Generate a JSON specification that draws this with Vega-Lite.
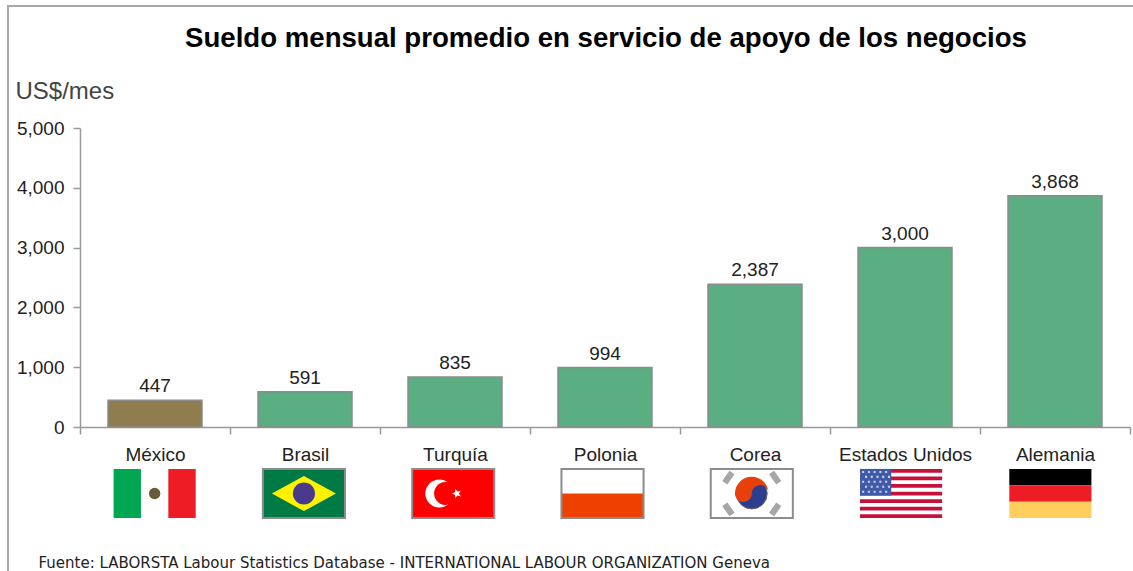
{
"$schema":"https://vega.github.io/schema/vega-lite/v6.json",
"autosize":{"type":"none"},
"padding":{"left":8,"top":6,"right":0,"bottom":0},
"width":1128,"height":568,
"background":"white",
"config":{"view":{"stroke":"#A8A8A8","strokeWidth":2},"font":"Liberation Sans"},
"title":{"text":"Sueldo mensual promedio en servicio de apoyo de los negocios","font":"Liberation Sans","fontSize":27.6,"fontWeight":"bold","color":"#000","anchor":"middle","frame":"group","dx":34,"offset":-68.5,"baseline":"alphabetic"},
"datasets":{
"sueldos":[
{"pais":"México","sueldo":447,"grupo":"barra México"},
{"pais":"Brasil","sueldo":591,"grupo":"barra"},
{"pais":"Turquía","sueldo":835,"grupo":"barra"},
{"pais":"Polonia","sueldo":994,"grupo":"barra"},
{"pais":"Corea","sueldo":2387,"grupo":"barra"},
{"pais":"Estados Unidos","sueldo":3000,"grupo":"barra"},
{"pais":"Alemania","sueldo":3868,"grupo":"barra"}
],
"franjas":[
{"pais":"México","parte":"blanco","ini":0,"fin":1},
{"pais":"Brasil","parte":"verde Brasil","ini":0,"fin":1},
{"pais":"Turquía","parte":"rojo","ini":0,"fin":1},
{"pais":"Polonia","parte":"blanco","ini":0,"fin":0.5},
{"pais":"Polonia","parte":"naranja","ini":0.5,"fin":1},
{"pais":"Corea","parte":"blanco","ini":0,"fin":1},
{"pais":"Estados Unidos","parte":"blanco","ini":0,"fin":1},
{"pais":"Estados Unidos","parte":"carmesí","ini":0,"fin":0.077},
{"pais":"Estados Unidos","parte":"carmesí","ini":0.154,"fin":0.231},
{"pais":"Estados Unidos","parte":"carmesí","ini":0.308,"fin":0.385},
{"pais":"Estados Unidos","parte":"carmesí","ini":0.462,"fin":0.539},
{"pais":"Estados Unidos","parte":"carmesí","ini":0.616,"fin":0.693},
{"pais":"Estados Unidos","parte":"carmesí","ini":0.77,"fin":0.847},
{"pais":"Estados Unidos","parte":"carmesí","ini":0.924,"fin":1},
{"pais":"Alemania","parte":"negro","ini":0,"fin":0.333},
{"pais":"Alemania","parte":"rojo Alemania","ini":0.333,"fin":0.667},
{"pais":"Alemania","parte":"oro","ini":0.667,"fin":1}
],
"columnas":[
{"pais":"México","parte":"verde México","col":"c1","ini":0,"fin":1},
{"pais":"México","parte":"rojo Alemania","col":"c3","ini":0,"fin":1}
],
"marcos":[{"pais":"Brasil"},{"pais":"Turquía"},{"pais":"Polonia"},{"pais":"Corea"}]
},
"layer":[
{
"data":{"name":"sueldos"},
"encoding":{
"x":{"field":"pais","type":"nominal","sort":null,
"scale":{"range":[72,1122],"paddingInner":0,"paddingOuter":0},
"axis":{"title":"Fuente: LABORSTA Labour Statistics Database - INTERNATIONAL LABOUR ORGANIZATION Geneva","titleFont":"DejaVu Sans","titleFontSize":15,"titleFontWeight":"normal","titleColor":"#222","titleAnchor":"start","titleAlign":"left","titleBaseline":"alphabetic","titleX":30,"titleY":140,"offset":-147,"labelAngle":0,"labelFontSize":19,"labelColor":"#222","labelPadding":11,"tickSize":7,"tickBand":"extent","tickColor":"#999","domainColor":"#999","domainWidth":1.5,"tickWidth":1.5,"labelFont":"Liberation Sans"}},
"y":{"field":"sueldo","type":"quantitative",
"scale":{"domain":[0,5000],"range":[421,122],"nice":false},
"axis":{"title":"US$/mes","titleFont":"Liberation Sans","titleFontSize":24,"titleFontWeight":"normal","titleColor":"#444","titleAngle":0,"titleAlign":"left","titleBaseline":"alphabetic","titleX":-65,"titleY":92,"offset":-72,"values":[0,1000,2000,3000,4000,5000],"format":",d","grid":false,"labelFontSize":19,"labelColor":"#222","labelPadding":9,"tickSize":7,"tickColor":"#999","domainColor":"#999","domainWidth":1.5,"tickWidth":1.5,"labelFont":"Liberation Sans"}}
},
"layer":[
{"mark":{"type":"bar","size":94,"stroke":"#8C8C8C","strokeWidth":1.5},
"encoding":{"color":{"field":"grupo","type":"nominal","legend":null,"scale":{"domain":["barra","barra México","blanco","verde Brasil","rojo","naranja","carmesí","negro","rojo Alemania","oro","verde México"],"range":["#5BAD82","#8F7D50","#FFFFFF","#007A45","#FF0000","#EE4000","#C4123A","#000000","#EE1C25","#FFCE5C","#00A651"]}}}},
{"mark":{"type":"text","dy":-14,"fontSize":19,"color":"#222","font":"Liberation Sans"},
"encoding":{"text":{"field":"sueldo","type":"quantitative","format":",d"}}}
]
},
{
"encoding":{
"x":{"field":"pais","type":"nominal",
"scale":{"domain":["México","Brasil","Turquía","Polonia","Corea","Estados Unidos","Alemania"],"range":[72,1117],"paddingInner":0.45,"paddingOuter":0.225},"axis":null}
},
"layer":[
{"data":{"name":"franjas"},"mark":{"type":"bar"},
"encoding":{
"y":{"field":"ini","type":"quantitative","scale":{"domain":[0,1],"range":[463,512]},"axis":null},
"y2":{"field":"fin"},
"color":{"field":"parte","type":"nominal","legend":null}}},
{"data":{"name":"columnas"},"mark":{"type":"bar"},
"encoding":{
"xOffset":{"field":"col","type":"nominal","scale":{"domain":["c1","c2","c3"],"paddingInner":0,"paddingOuter":0}},
"y":{"field":"ini","type":"quantitative","axis":null},
"y2":{"field":"fin"},
"color":{"field":"parte","type":"nominal","legend":null}}},
{"data":{"name":"marcos"},"mark":{"type":"bar","fillOpacity":0,"stroke":"#8C8C8C","strokeWidth":2},
"encoding":{"y":{"datum":0,"type":"quantitative","axis":null},"y2":{"datum":1}}},
{"data":{"values":[{"pais":"Estados Unidos","v":0.5}]},"mark":{"type":"point","filled":true,"opacity":1,"color":"#3F5AA8","size":6724,"shape":"M-1,-0.6H-0.24V0.05H-1Z"},
"encoding":{"y":{"field":"v","type":"quantitative","axis":null}}},
{"data":{"values":[{"pais":"Estados Unidos","v":0.5}]},"mark":{"type":"point","filled":true,"opacity":0.75,"color":"#FFFFFF","size":6724,"shape":"M-0.95,-0.55h.05v.05h-.05ZM-0.81,-0.55h.05v.05h-.05ZM-0.67,-0.55h.05v.05h-.05ZM-0.53,-0.55h.05v.05h-.05ZM-0.39,-0.55h.05v.05h-.05ZM-0.88,-0.43h.05v.05h-.05ZM-0.74,-0.43h.05v.05h-.05ZM-0.6,-0.43h.05v.05h-.05ZM-0.46,-0.43h.05v.05h-.05ZM-0.32,-0.43h.05v.05h-.05ZM-0.95,-0.31h.05v.05h-.05ZM-0.81,-0.31h.05v.05h-.05ZM-0.67,-0.31h.05v.05h-.05ZM-0.53,-0.31h.05v.05h-.05ZM-0.39,-0.31h.05v.05h-.05ZM-0.88,-0.19h.05v.05h-.05ZM-0.74,-0.19h.05v.05h-.05ZM-0.6,-0.19h.05v.05h-.05ZM-0.46,-0.19h.05v.05h-.05ZM-0.32,-0.19h.05v.05h-.05ZM-0.95,-0.07h.05v.05h-.05ZM-0.81,-0.07h.05v.05h-.05ZM-0.67,-0.07h.05v.05h-.05ZM-0.53,-0.07h.05v.05h-.05ZM-0.39,-0.07h.05v.05h-.05Z"},
"encoding":{"y":{"field":"v","type":"quantitative","axis":null}}},
{"data":{"values":[{"pais":"Brasil","v":0.5}]},"mark":{"type":"point","filled":true,"opacity":1,"color":"#FFF200","size":4100,"shape":"M-1,0L0,-0.55L1,0L0,0.55Z"},
"encoding":{"y":{"field":"v","type":"quantitative","axis":null}}},
{"data":{"values":[{"pais":"Brasil","v":0.5}]},"mark":{"type":"point","filled":true,"opacity":1,"color":"#4B3A8C","size":490,"shape":"circle"},
"encoding":{"y":{"field":"v","type":"quantitative","axis":null}}},
{"data":{"values":[{"pais":"México","v":0.5}]},"mark":{"type":"point","filled":true,"opacity":1,"color":"#6B5A3A","size":130,"shape":"circle"},
"encoding":{"y":{"field":"v","type":"quantitative","axis":null}}},
{"data":{"values":[{"pais":"Turquía","v":0.5}]},"mark":{"type":"point","filled":true,"opacity":1,"color":"#FFFFFF","size":3600,"shape":"M-0.17,-0.37A0.47,0.47 0 1 0 -0.17,0.37A0.38,0.38 0 1 1 -0.17,-0.37ZM-0.05,0L0.063,-0.041L0.067,-0.162L0.142,-0.067L0.258,-0.1L0.19,0L0.258,0.1L0.142,0.067L0.067,0.162L0.063,0.041Z"},
"encoding":{"y":{"field":"v","type":"quantitative","axis":null}}},
{"data":{"values":[{"pais":"Corea","v":0.5}]},"mark":{"type":"point","filled":true,"opacity":1,"color":"#A6A6A6","size":3600,"shape":"M-0.575,-0.64L-0.745,-0.76L-0.985,-0.42L-0.815,-0.3ZM0.575,-0.64L0.745,-0.76L0.985,-0.42L0.815,-0.3ZM-0.575,0.64L-0.745,0.76L-0.985,0.42L-0.815,0.3ZM0.575,0.64L0.745,0.76L0.985,0.42L0.815,0.3Z"},
"encoding":{"y":{"field":"v","type":"quantitative","axis":null}}},
{"data":{"values":[{"pais":"Corea","v":0.5}]},"mark":{"type":"point","filled":true,"opacity":1,"color":"#2E3E8E","stroke":"#666","strokeWidth":1,"size":950,"shape":"circle"},
"encoding":{"y":{"field":"v","type":"quantitative","axis":null}}},
{"data":{"values":[{"pais":"Corea","v":0.5}]},"mark":{"type":"point","filled":true,"opacity":1,"color":"#E8400A","size":3600,"shape":"M-0.56,0A0.56,0.56 0 0 1 0.56,0A0.28,0.28 0 0 0 0,0A0.28,0.28 0 0 1 -0.56,0Z"},
"encoding":{"y":{"field":"v","type":"quantitative","axis":null}}}
]
}
],
"resolve":{"scale":{"x":"independent","y":"independent"},"axis":{"x":"independent","y":"independent"}}
}
